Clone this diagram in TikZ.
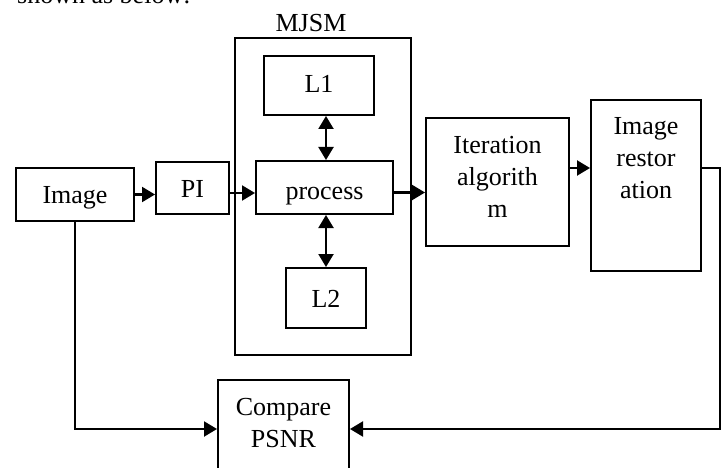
\documentclass[tikz,border=0pt]{standalone}
\usepackage{fontspec}
\setmainfont{Liberation Serif}
\usetikzlibrary{arrows.meta}
\begin{document}
\begin{tikzpicture}[x=1pt,y=-1pt,
  box/.style={draw,line width=2pt,inner sep=0pt,rectangle,align=center},
  low/.style={text depth=0pt,text height=#1},
  arr/.style={line width=2.2pt,-{Triangle[length=13pt,width=15pt]}},
  darr/.style={line width=2.2pt,{Triangle[length=13pt,width=15pt]}-{Triangle[length=13pt,width=15pt]}},
  every node/.style={font=\fontsize{26}{32}\selectfont}]
\useasboundingbox (0,0) rectangle (723,468);
\node[anchor=base west,inner sep=0pt] (cap) at (17,4) {shown as below:};
\node[box,low=17pt,minimum width=118,minimum height=53] (img) at (75,194.5) {Image};
\node[box,low=18pt,minimum width=73,minimum height=52] (pi) at (192.5,188) {PI};
\node[box,minimum width=176,minimum height=317] (mjsm) at (323,196.5) {};
\node[anchor=base,inner sep=0pt] (mjsmlab) at (311,32) {MJSM};
\node[box,low=15pt,minimum width=110,minimum height=59] (l1) at (319,85.5) {L1};
\node[box,low=24pt,minimum width=137,minimum height=53] (proc) at (324.5,187.5) {process};
\node[box,low=19pt,minimum width=80,minimum height=60] (l2) at (326,298) {L2};
\node[box,minimum width=143,minimum height=128,
  label={[align=center,anchor=center,yshift=5pt]center:Iteration\\algorith\\m}] (iter) at (497.5,182) {};
\node[box,minimum width=110,minimum height=171,
  label={[align=center,anchor=center,yshift=-59pt]north:Image\\restor\\ation}] (rest) at (646,185.5) {};
\node[box,minimum width=131,minimum height=100,
  label={[align=center,anchor=center,yshift=-44pt]north:Compare\\PSNR}] (cmp) at (283.5,430) {};
\coordinate (pio) at ([yshift=-5pt]pi.east);
\coordinate (pro) at ([yshift=-5pt]proc.east);
\coordinate (ito) at ([yshift=14pt]iter.east);
\coordinate (cr) at (720,168);
\coordinate (cb) at (720,429);
\draw[arr] (img.east) -- (pi.west |- img.east);
\draw[arr] (pio) -- (proc.west |- pio);
\draw[arr] (pro) -- (iter.west |- pro);
\draw[arr] (ito) -- (rest.west |- ito);
\draw[darr] (l1.south -| l2.north) -- (proc.north -| l2.north);
\draw[darr] (proc.south -| l2.north) -- (l2.north);
\draw[arr] (rest.east |- cr) -- (cr) -- (cb) -- (cmp.east |- cb);
\draw[arr] (img.south) -- (img.south |- cb) -- (cmp.west |- cb);
\end{tikzpicture}
\end{document}
